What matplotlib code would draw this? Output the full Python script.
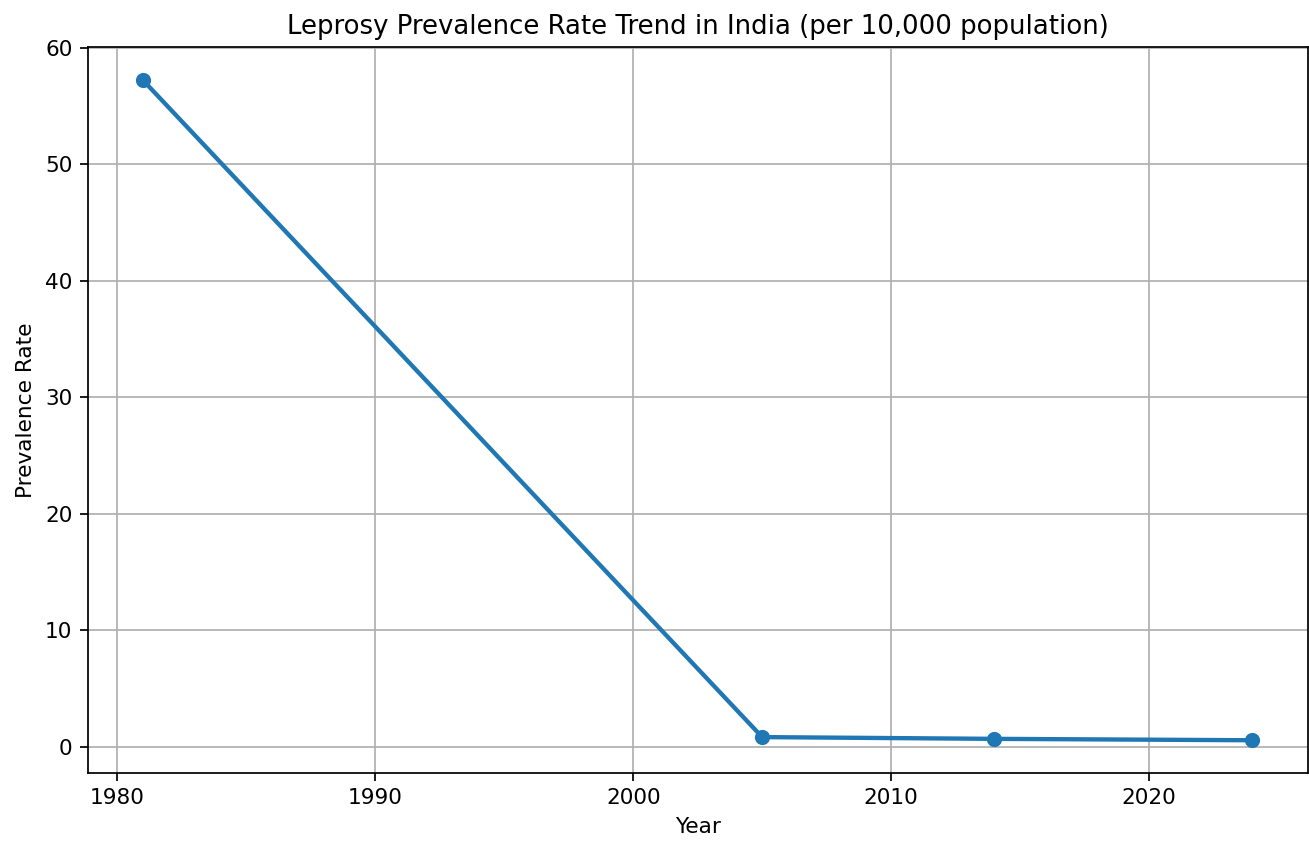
import matplotlib
matplotlib.use('Agg')
import matplotlib.pyplot as plt

years = [1981, 2005, 2014, 2024]
rates = [57.2, 0.84, 0.69, 0.57]

fig = plt.figure(figsize=(1309 / 156, 846 / 156), dpi=156)
ax = fig.add_axes([0.067, 0.086, 0.932, 0.858])
ax.plot(years, rates, marker='o', linewidth=2)
ax.set_title('Leprosy Prevalence Rate Trend in India (per 10,000 population)')
ax.set_xlabel('Year')
ax.set_ylabel('Prevalence Rate')
ax.grid(True)

plt.savefig('out.png', dpi=156)
